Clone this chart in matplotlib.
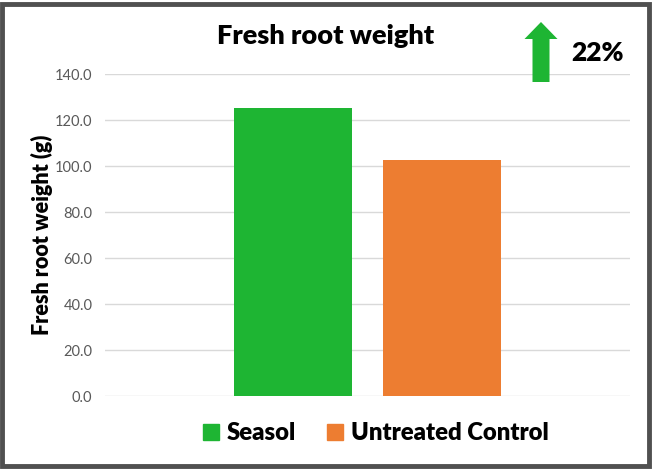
import matplotlib
matplotlib.use("Agg")
import matplotlib.pyplot as plt
from matplotlib.patches import Rectangle, FancyArrow

# --- data ---
series = ["Seasol", "Untreated Control"]
values = [125.4, 102.6]
colors = ["#1EB533", "#ED7D31"]
yticks = [0, 20, 40, 60, 80, 100, 120, 140]
increase_label = "22%"

plt.rcParams["font.family"] = ["Lato", "DejaVu Sans"]

fig = plt.figure(figsize=(6.54, 4.72), dpi=100)
W, H = 654, 472

# outer frame
fig.patches.append(Rectangle((2 / W, 6 / H), 647 / W, 462 / H, transform=fig.transFigure,
                             fill=False, edgecolor="#505050", linewidth=3.5))

ax = fig.add_axes([105 / W, 1 - 396 / H, 525 / W, (396 - 74) / H])
xpos = [0, 1]
ax.bar(xpos, values, width=0.79, color=colors, zorder=3)
ax.set_xlim(-1.262, 2.262)
ax.set_ylim(0, 140)
ax.set_yticks(yticks)
ax.set_yticklabels([f"{v:.1f}" for v in yticks], color="#595959", fontsize=10.5)
ax.tick_params(axis="y", length=0, pad=9)
ax.set_xticks([])
ax.grid(axis="y", color="#D9D9D9", linewidth=1, zorder=0)
for s in ax.spines.values():
    s.set_visible(False)

ax.set_ylabel("Fresh root weight (g)", fontsize=15.5, fontweight="heavy")
ax.yaxis.set_label_coords(-0.099, 0.5)

fig.text(326 / W, 1 - 36 / H, "Fresh root weight", ha="center", va="center",
         fontsize=19.5, fontweight="heavy")

# up arrow + percentage
fig.patches.append(FancyArrow(541 / W, 1 - 82 / H, 0, 60 / H, width=17 / W,
                              head_width=33 / W, head_length=17 / H,
                              length_includes_head=True, transform=fig.transFigure,
                              color="#1EB533", linewidth=0))
fig.text(598 / W, 1 - 53 / H, increase_label, ha="center", va="center",
         fontsize=19, fontweight="heavy")

# legend
handles = [Rectangle((0, 0), 1, 1, color=c) for c in colors]
fig.legend(handles, series, loc="center", bbox_to_anchor=(376 / W, 1 - 433 / H),
           ncol=2, frameon=False, prop={"size": 17.2, "weight": "heavy"},
           handlelength=0.65, handleheight=0.65, handletextpad=0.35, columnspacing=1.3)

fig.savefig("out.png", dpi=100)
